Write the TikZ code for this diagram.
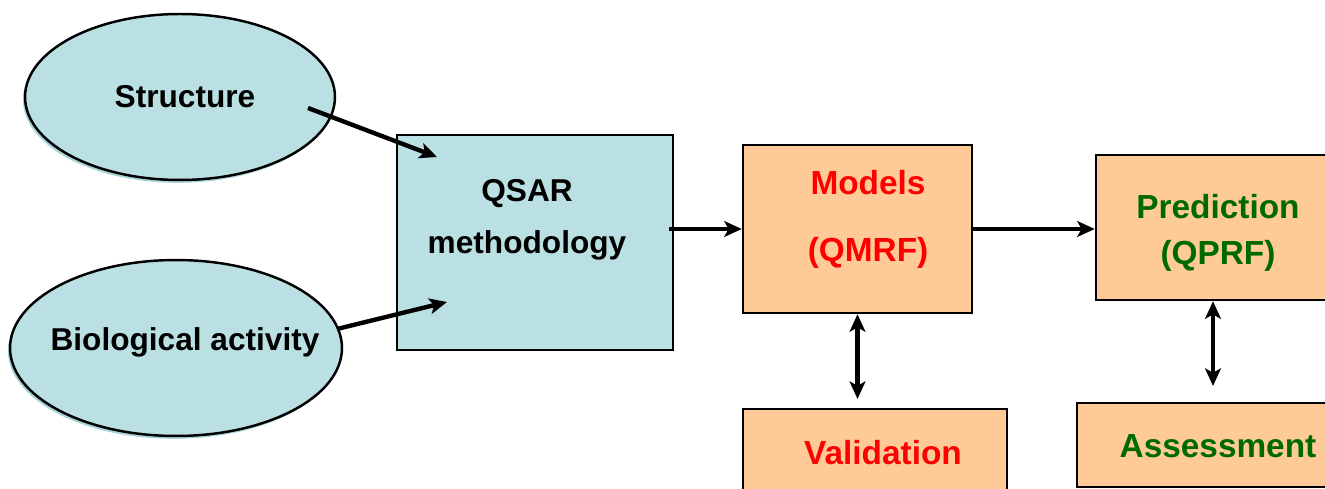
\documentclass[tikz,border=0pt]{standalone}
\usepackage{fontspec}
\setmainfont{Liberation Sans}
\usepackage{tikz}
\usetikzlibrary{arrows.meta,shapes.geometric,shadows}

\definecolor{qsarcyan}{HTML}{BAE0E3}
\definecolor{qsarshade}{HTML}{A6D3D7}
\definecolor{qsarorange}{HTML}{FECB98}
\definecolor{qsarred}{HTML}{FF0000}
\definecolor{qsargreen}{HTML}{006A00}

\begin{document}
\begin{tikzpicture}[x=0.02cm,y=-0.02cm,>={Stealth[length=10pt,width=9pt,inset=2.5pt]},
    blob/.style={ellipse,draw,line width=1.4pt,fill=qsarcyan,inner sep=0pt,
      drop shadow={shadow xshift=-1.2pt,shadow yshift=-1.6pt,fill=qsarshade,opacity=1}},
    box/.style={rectangle,draw,line width=1.4pt,inner sep=0pt},
    cbox/.style={box,fill=qsarcyan},
    obox/.style={box,fill=qsarorange},
    txt/.style={align=center,inner sep=0pt,font=\fontsize{18}{22}\selectfont\bfseries},
    redtxt/.style={txt,text=qsarred,font=\fontsize{19}{23}\selectfont\bfseries},
    greentxt/.style={txt,text=qsargreen,font=\fontsize{19}{23}\selectfont\bfseries},
    link/.style={line width=2.5pt}]
            \useasboundingbox (0,0) rectangle (1325,489);
            \clip (0,0) rectangle (1325,489);

            \node[blob,minimum width=6.2cm,minimum height=3.32cm]  (struct) at (180,97)  {};
            \node[blob,minimum width=6.64cm,minimum height=3.52cm] (bio)    at (176,348) {};

            \node[cbox,minimum width=5.52cm,minimum height=4.3cm]  (qsar)   at (535,242.5) {};
            \node[obox,minimum width=4.58cm,minimum height=3.36cm] (models) at (857.5,229) {};
            \node[obox,minimum width=4.68cm,minimum height=2.9cm]  (pred)   at (1213,227.5) {};
            \node[obox,minimum width=5.28cm,minimum height=1.76cm] (valid)  at (875,453) {};
            \node[obox,minimum width=5.44cm,minimum height=1.68cm] (assess) at (1213,445) {};

            \node[txt]      (structtxt) at (185,97)   {Structure};
            \node[txt]      (biotxt)    at (185,342)  {Biological activity};
            \node[txt]      (qsartxt)   at (527,220)  {QSAR\\[7.6pt]methodology};
            \node[redtxt]   (modelstxt) at (868,219)  {Models\\[15pt](QMRF)};
            \node[greentxt] (predtxt)   at (1218,233) {Prediction\\[3pt](QPRF)};
            \node[redtxt]   (validtxt)  at (883,453)  {Validation};
            \node[greentxt] (assesstxt) at (1218,446) {Assessment};

            \coordinate (structout) at (308,108);
            \coordinate (structin)  at (437,157);
            \coordinate (bioout)    at (337,329);
            \coordinate (bioin)     at (447,302);

            \draw[link,->] (structout) -- (structin);
            \draw[link,->] (bioout) -- (bioin);
            \draw[link,->] ([xshift=-3pt]qsar.east |- models.west) -- (models.west);
            \draw[link,->] (models.east) -- (models.east -| pred.west);
            \draw[link,<->,shorten >=5pt] (models.south) -- (models.south |- valid.north);
            \draw[link,<->,shorten >=9pt] (pred.south) -- (pred.south |- assess.north);

          \end{tikzpicture}
\end{document}
